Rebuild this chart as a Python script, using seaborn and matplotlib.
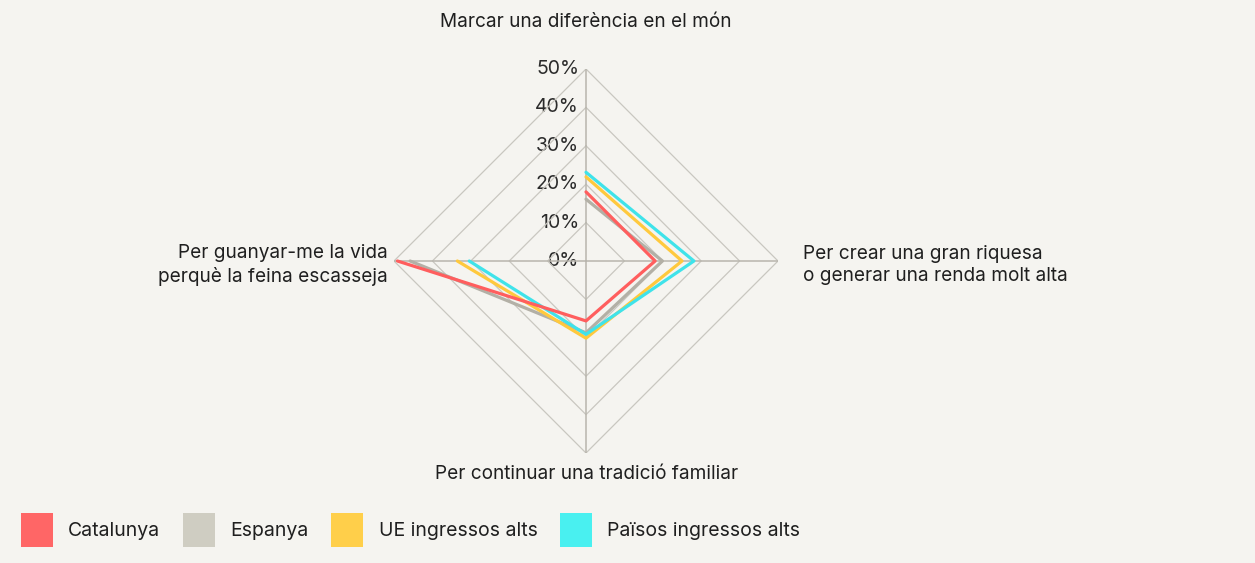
import numpy as np
import pandas as pd
import matplotlib
matplotlib.use("Agg")
import matplotlib.pyplot as plt
from matplotlib.patches import Patch
import seaborn as sns

# Motivations (clockwise from the top) and share of respondents, in %
categories = [
    "Marcar una diferència en el món",
    "Per crear una gran riquesa\no generar una renda molt alta",
    "Per continuar una tradició familiar",
    "Per guanyar-me la vida\nperquè la feina escasseja",
]
series_names = ["Catalunya", "Espanya", "UE ingressos alts", "Països ingressos alts"]
catalunya = [18.0, 18.0, 15.6, 49.1]
espanya = [16.1, 19.9, 18.7, 45.8]
ue_alts = [21.9, 25.0, 20.1, 33.5]
paisos_alts = [23.1, 28.1, 19.1, 30.4]
tick_values = [0, 10, 20, 30, 40, 50]
tick_labels = ["0%", "10%", "20%", "30%", "40%", "50%"]

line_colors = {
    "Catalunya": "#ff5e5e",
    "Espanya": "#b3b0a6",
    "UE ingressos alts": "#ffc93d",
    "Països ingressos alts": "#3fe3ea",
}
legend_colors = ["#ff6666", "#cfcdc2", "#ffcf4a", "#49f0f0"]

bg = "#f5f4f0"
sns.set_theme(style="white")
plt.rcParams["font.family"] = ["Inter", "DejaVu Sans"]

fig = plt.figure(figsize=(12.55, 5.63), dpi=100, facecolor=bg)
W, H = 1255, 563
cx, cy, R = 586, 261, 192
ax = fig.add_axes([(cx - R) / W, (H - cy - R) / H, 2 * R / W, 2 * R / H],
                  projection="polar")
ax.set_facecolor("none")
ax.set_theta_offset(np.pi / 2)
ax.set_theta_direction(-1)
ax.set_ylim(0, 50)
ax.grid(False)
ax.spines["polar"].set_visible(False)
ax.set_xticks([])
ax.set_yticks([])

n = len(categories)
angles = np.arange(n) * 2 * np.pi / n
closed = np.append(angles, angles[0])

# polygonal grid rings and spokes
for v in tick_values[1:]:
    ax.plot(closed, [v] * (n + 1), color="#c9c7c0", lw=0.9, zorder=1)
for a in angles:
    ax.plot([a, a], [0, tick_values[-1]], color="#b8b5ad", lw=1.1, zorder=1)

# radial tick labels
for v, lab in zip(tick_values, tick_labels):
    ax.annotate(lab, xy=(0, v), xytext=(-5, 0), textcoords="offset points",
                ha="right", va="center", fontsize=14, color="#2b2b2b",
                zorder=0.5)

# series lines
rows = []
for name, vals in zip(series_names,
                      [catalunya, espanya, ue_alts, paisos_alts]):
    for a, v in zip(closed, vals + [vals[0]]):
        rows.append({"serie": name, "theta": a, "valor": v})
df = pd.DataFrame(rows)
order = ["Espanya", "UE ingressos alts", "Països ingressos alts", "Catalunya"]
for name in order:
    sub = df[df["serie"] == name]
    sns.lineplot(data=sub, x="theta", y="valor", sort=False, ax=ax,
                 color=line_colors[name], lw=2.3, legend=False, zorder=3)
ax.set_xlabel("")
ax.set_ylabel("")
ax.set_ylim(0, 50)

# category labels
txt = dict(fontsize=13.7, color="#1f1f1f", linespacing=1.3)
fig.text(cx / W, 1 - 22 / H, categories[0], ha="center", va="center", **txt)
fig.text(803 / W, 1 - 265 / H, categories[1], ha="left", va="center", **txt)
fig.text(587 / W, 1 - 474 / H, categories[2], ha="center", va="center", **txt)
fig.text(388 / W, 1 - 265 / H, categories[3], ha="right", va="center",
         multialignment="right", **txt)

handles = [Patch(facecolor=c, edgecolor="none") for c in legend_colors]
fig.legend(handles, series_names, loc="center left",
           bbox_to_anchor=(3 / W, 1 - 530 / H), ncol=4, frameon=False,
           fontsize=14, handlelength=1.65, handleheight=2.3,
           handletextpad=0.8, columnspacing=1.15, labelcolor="#1f1f1f")

fig.savefig("out.png", dpi=100, facecolor=bg)
